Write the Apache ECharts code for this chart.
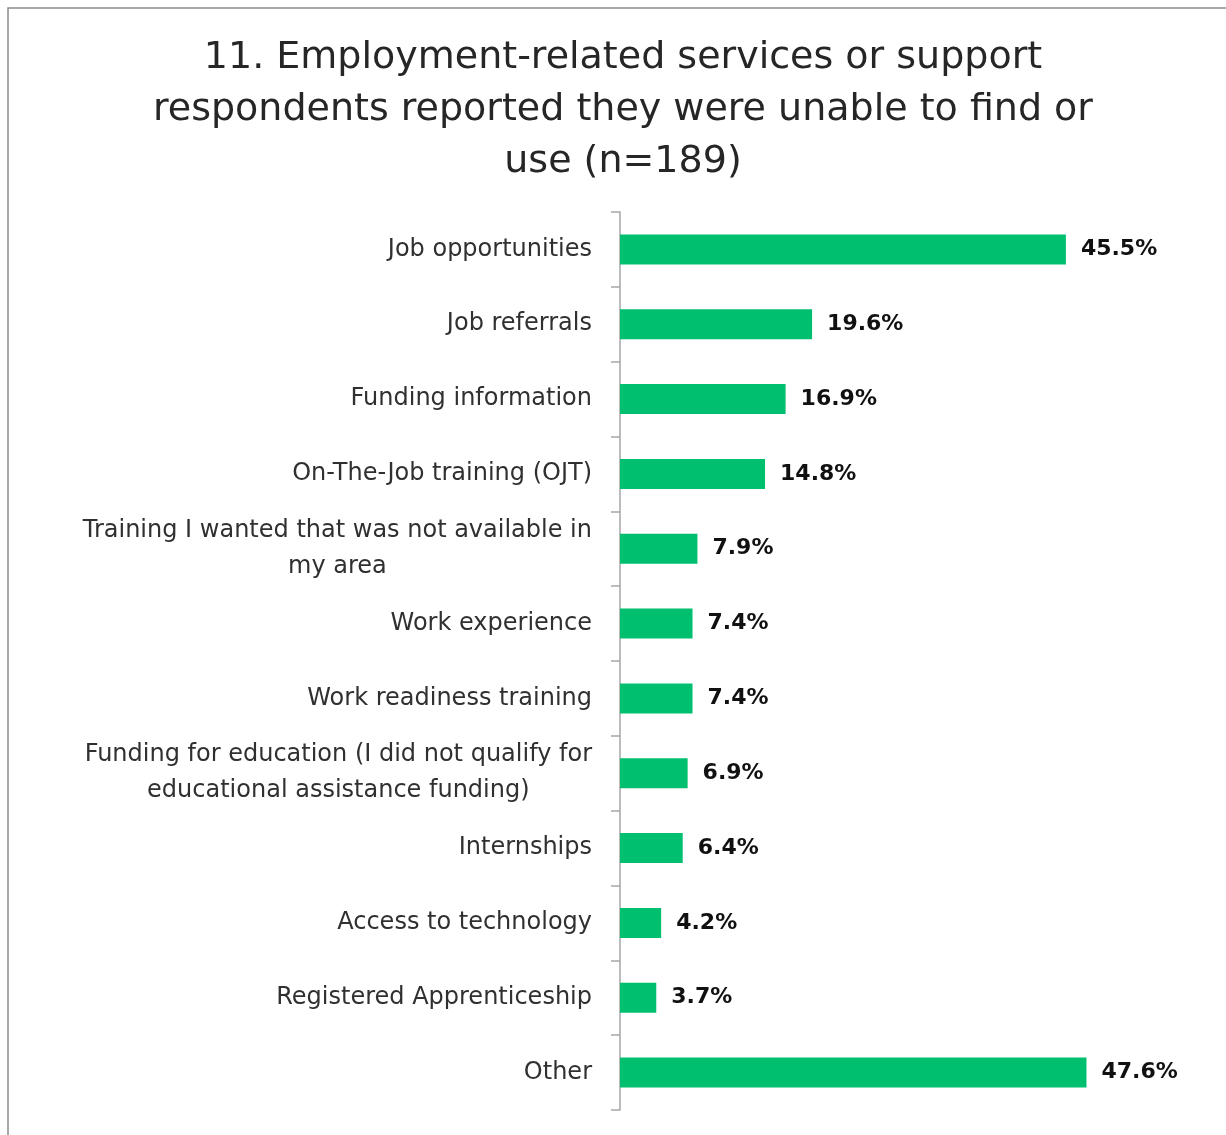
<!DOCTYPE html>
<html>
<head>
<meta charset="utf-8">
<script src="https://cdn.jsdelivr.net/npm/echarts@6/dist/echarts.min.js"></script>
<style>
  html, body { margin: 0; padding: 0; background: #ffffff; }
  #chart { width: 1226px; height: 1135px; }
</style>
</head>
<body>
<div id="chart"></div>
<script>
// Survey categories, listed top to bottom
const categories = [
  'Job opportunities',
  'Job referrals',
  'Funding information',
  'On-The-Job training (OJT)',
  'Training I wanted that was not available in\nmy area',
  'Work experience',
  'Work readiness training',
  'Funding for education (I did not qualify for\neducational assistance funding)',
  'Internships',
  'Access to technology',
  'Registered Apprenticeship',
  'Other'
];

// Share of respondents (%)
const percentages = [45.5, 19.6, 16.9, 14.8, 7.9, 7.4, 7.4, 6.9, 6.4, 4.2, 3.7, 47.6];

const titleText = '11. Employment-related services or support\nrespondents reported they were unable to find or\nuse (n=189)';

const chart = echarts.init(document.getElementById('chart'), null, { renderer: 'canvas' });

// category axis runs top-down, so reverse for ECharts' bottom-up order
const yCats = categories.slice().reverse();
const yVals = percentages.slice().reverse();

const FONT = '"DejaVu Sans", "Open Sans", sans-serif';

chart.setOption({
  backgroundColor: '#ffffff',
  animation: false,
  title: {
    text: titleText,
    left: 618,
    top: 27,
    textAlign: 'center',
    textStyle: {
      fontFamily: FONT,
      fontSize: 38,
      fontWeight: 'normal',
      color: '#262626',
      lineHeight: 52
    }
  },
  graphic: [{
    type: 'rect',
    shape: { x: 8, y: 8, width: 1400, height: 1400 },
    style: { fill: 'none', stroke: '#8c8c8c', lineWidth: 1.5 },
    silent: true,
    z: 100
  }],
  grid: {
    left: 620,
    top: 212,
    width: 490,
    bottom: 25
  },
  xAxis: {
    type: 'value',
    min: 0,
    max: 50,
    show: false
  },
  yAxis: {
    type: 'category',
    data: yCats,
    axisLine: { show: true, lineStyle: { color: '#a6a6a6', width: 1.5 } },
    axisTick: { show: true, length: 9, lineStyle: { color: '#a6a6a6', width: 1.5 } },
    axisLabel: {
      margin: 28,
      formatter: function (v) {
        return v.split('\n').map(function (line) { return '{c|' + line + '}'; }).join('\n');
      },
      rich: {
        c: {
          fontFamily: FONT,
          fontSize: 24,
          color: '#303030',
          align: 'center',
          lineHeight: 36
        }
      }
    }
  },
  series: [{
    type: 'bar',
    data: yVals,
    barWidth: 30,
    itemStyle: { color: '#00bf6f' },
    label: {
      show: true,
      position: 'right',
      distance: 15,
      formatter: function (p) { return p.value.toFixed(1) + '%'; },
      fontFamily: FONT,
      fontSize: 22,
      fontWeight: 'bold',
      color: '#111111'
    }
  }]
});
</script>
</body>
</html>
